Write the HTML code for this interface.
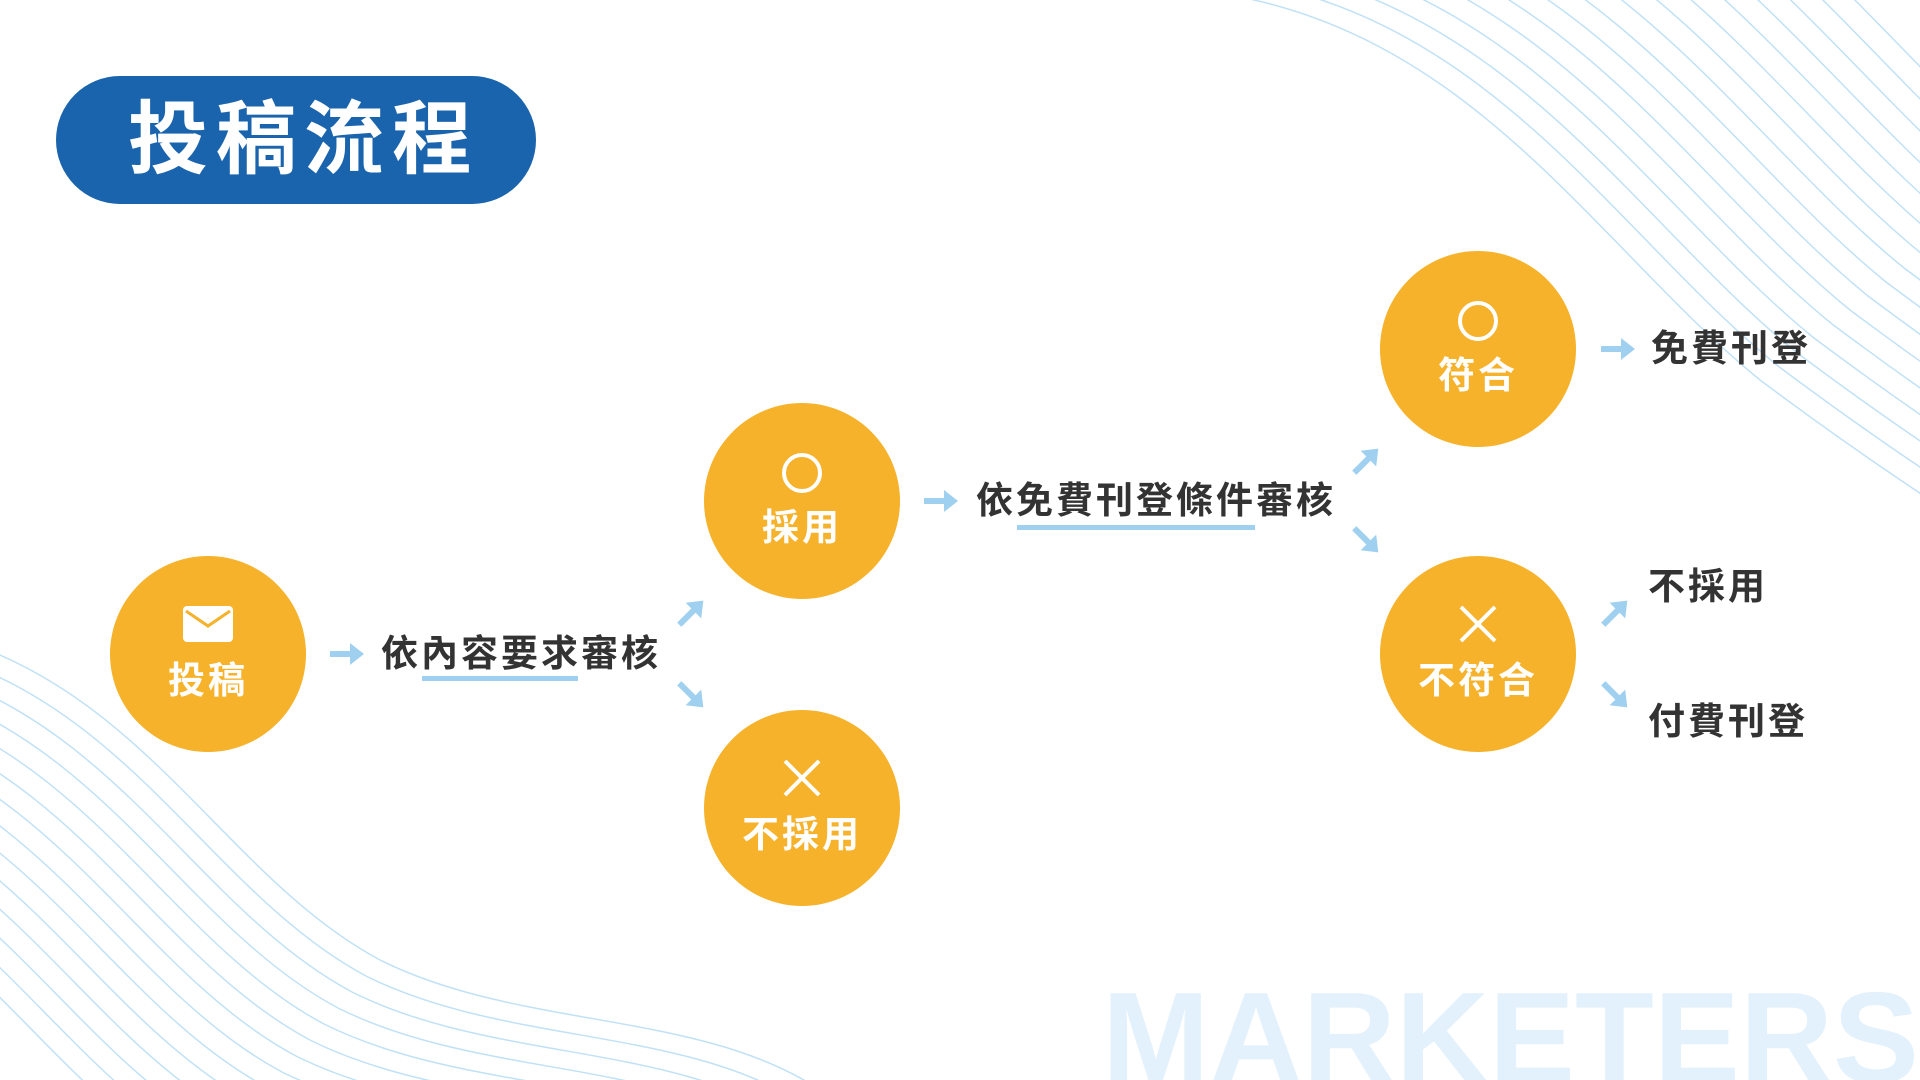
<!DOCTYPE html>
<html><head><meta charset="utf-8"><style>
*{margin:0;padding:0;box-sizing:border-box}
html,body{width:1920px;height:1080px;overflow:hidden}
body{position:relative;background:#fff;font-family:"Liberation Sans","Noto Sans CJK TC",sans-serif}
svg{display:block}
.a{position:absolute}
.c{position:absolute;width:196px;height:196px;border-radius:50%;background:#f5b22a;color:#fff;font-weight:700;font-size:37px;letter-spacing:3px;text-align:center}
.c .t{position:absolute;left:0;right:0;top:105px;line-height:40px}
.lbl{position:absolute;font-weight:700;font-size:37px;letter-spacing:3px;color:#333;line-height:44px;white-space:nowrap}
.ul{position:absolute;height:5px;background:#9fd0f0}
</style></head><body>
<svg class="a" style="left:0;top:0" width="1920" height="1080">
<defs>
<path id="w1" d="M1230 -5 C1480 40 1600 250 1760 380 C1840 440 1900 480 1960 520" fill="none" stroke="#b9def5" stroke-width="1.5"/>
<path id="w2" d="M-40 640 C150 700 230 880 380 960 C520 1030 700 1010 820 1090" fill="none" stroke="#b9def5" stroke-width="1.5"/>
</defs>
<g opacity="0.9">
<use href="#w1"/><use href="#w1" transform="translate(18,-14)"/><use href="#w1" transform="translate(36,-28)"/><use href="#w1" transform="translate(54,-42)"/><use href="#w1" transform="translate(72,-56)"/><use href="#w1" transform="translate(90,-70)"/><use href="#w1" transform="translate(108,-84)"/><use href="#w1" transform="translate(126,-98)"/><use href="#w1" transform="translate(144,-112)"/><use href="#w1" transform="translate(162,-126)"/><use href="#w1" transform="translate(180,-140)"/><use href="#w1" transform="translate(198,-154)"/><use href="#w1" transform="translate(216,-168)"/><use href="#w1" transform="translate(234,-182)"/><use href="#w1" transform="translate(252,-196)"/><use href="#w1" transform="translate(270,-210)"/>
<use href="#w2"/><use href="#w2" transform="translate(-14,16)"/><use href="#w2" transform="translate(-28,32)"/><use href="#w2" transform="translate(-42,48)"/><use href="#w2" transform="translate(-56,64)"/><use href="#w2" transform="translate(-70,80)"/><use href="#w2" transform="translate(-84,96)"/><use href="#w2" transform="translate(-98,112)"/><use href="#w2" transform="translate(-112,128)"/><use href="#w2" transform="translate(-126,144)"/><use href="#w2" transform="translate(-140,160)"/><use href="#w2" transform="translate(-154,176)"/><use href="#w2" transform="translate(-168,192)"/><use href="#w2" transform="translate(-182,208)"/>
</g>
<text x="1102" y="1082" font-family="Liberation Sans" font-weight="700" font-size="129" fill="#e3f1fc">MARKETERS</text>
<defs>
<g id="ar"><path d="M-18 0 H8" stroke="#9fd0f0" stroke-width="6" fill="none"/><path d="M2 -11 L16 0 L2 11 Z" fill="#9fd0f0"/></g>
</defs>
<use href="#ar" transform="translate(348,654)"/>
<use href="#ar" transform="translate(942,501)"/>
<use href="#ar" transform="translate(1619,349)"/>
<use href="#ar" transform="translate(692,612) rotate(-45)"/>
<use href="#ar" transform="translate(692,696) rotate(45)"/>
<use href="#ar" transform="translate(1367,460) rotate(-45)"/>
<use href="#ar" transform="translate(1367,541) rotate(45)"/>
<use href="#ar" transform="translate(1616,612) rotate(-45)"/>
<use href="#ar" transform="translate(1616,696) rotate(45)"/>
</svg>

<div class="a" style="left:56px;top:76px;width:480px;height:128px;border-radius:64px;background:#1a64ad;color:#fff;font-weight:700;font-size:80px;letter-spacing:8px;line-height:128px;padding-left:72px">投稿流程</div>

<div class="c" style="left:110px;top:556px">
<svg class="a" style="left:73px;top:50px" width="50" height="36"><rect x="0" y="0" width="50" height="36" rx="4" fill="#fff"/><path d="M3 5 L25 20 L47 5" stroke="#f5b22a" stroke-width="3" fill="none"/></svg>
<div class="t">投稿</div></div>

<div class="c" style="left:704px;top:403px">
<svg class="a" style="left:76px;top:48px" width="44" height="44"><circle cx="22" cy="22" r="18" stroke="#fff" stroke-width="4" fill="none"/></svg>
<div class="t">採用</div></div>

<div class="c" style="left:704px;top:710px">
<svg class="a" style="left:78px;top:48px" width="40" height="40"><path d="M3 3 L37 37 M37 3 L3 37" stroke="#fff" stroke-width="4"/></svg>
<div class="t">不採用</div></div>

<div class="c" style="left:1380px;top:251px">
<svg class="a" style="left:76px;top:48px" width="44" height="44"><circle cx="22" cy="22" r="18" stroke="#fff" stroke-width="4" fill="none"/></svg>
<div class="t">符合</div></div>

<div class="c" style="left:1380px;top:556px">
<svg class="a" style="left:78px;top:48px" width="40" height="40"><path d="M3 3 L37 37 M37 3 L3 37" stroke="#fff" stroke-width="4"/></svg>
<div class="t">不符合</div></div>

<div class="lbl" style="left:381px;top:632px">依內容要求審核</div>
<div class="ul" style="left:422px;top:676px;width:156px"></div>
<div class="lbl" style="left:976px;top:479px">依免費刊登條件審核</div>
<div class="ul" style="left:1017px;top:525px;width:238px"></div>
<div class="lbl" style="left:1651px;top:327px">免費刊登</div>
<div class="lbl" style="left:1648px;top:565px">不採用</div>
<div class="lbl" style="left:1648px;top:700px">付費刊登</div>
</body></html>
